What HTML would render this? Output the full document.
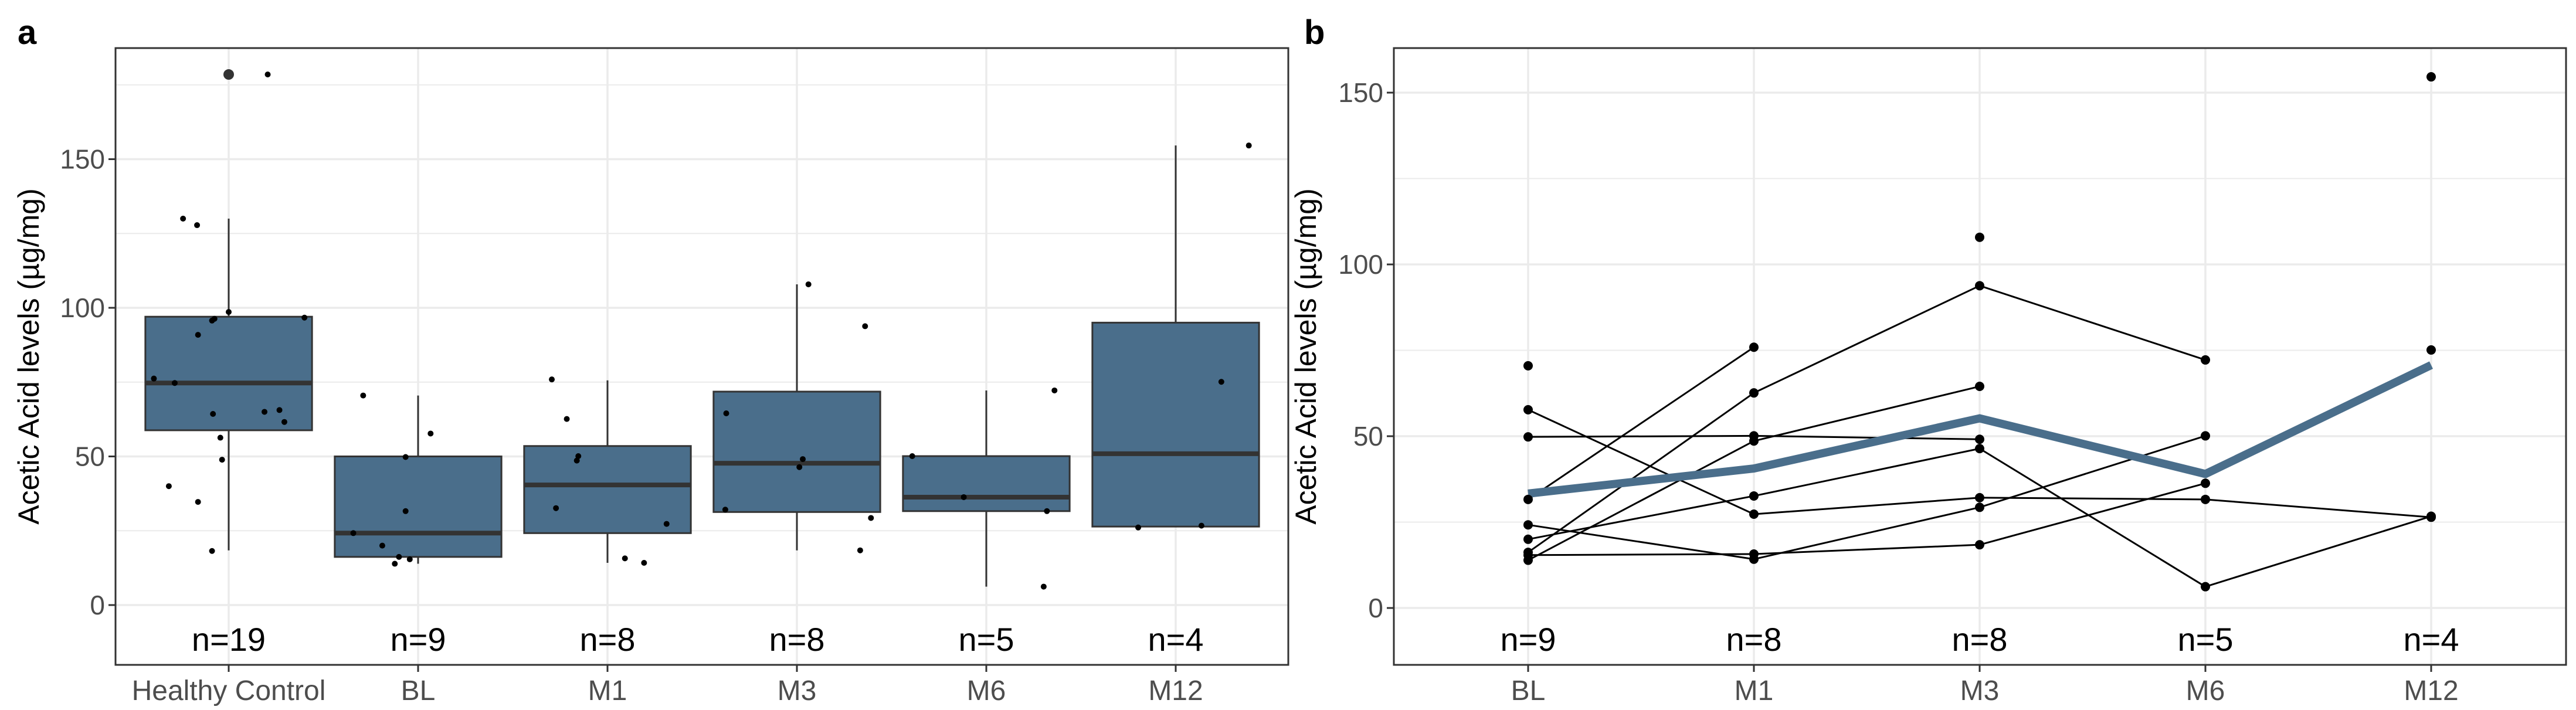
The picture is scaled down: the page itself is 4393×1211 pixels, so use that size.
<!DOCTYPE html>
<html><head><meta charset="utf-8">
<style>
html,body{margin:0;padding:0;background:#fff;}
svg{display:block;font-family:"Liberation Sans",Arial,sans-serif;}
</style></head>
<body>
<svg id="fig" width="4393" height="1211" viewBox="0 0 4393 1211" xmlns="http://www.w3.org/2000/svg">
<rect x="0" y="0" width="4393" height="1211" fill="#fff"/>
<text x="30" y="75" font-size="58" font-weight="bold" fill="#000">a</text>
<text x="2224" y="75" font-size="58" font-weight="bold" fill="#000">b</text>
<g id="pa"></g>
<g id="pb"></g>
</svg>
<script>
// ---------- Panel A data ----------
const catsA = ["Healthy Control","BL","M1","M3","M6","M12"];
const countsA = [19,9,8,8,5,4];
const boxQ1 = [58.8,16.2,24.2,31.3,31.6,26.4];
const boxMed = [74.7,24.2,40.4,47.7,36.3,50.9];
const boxQ3 = [97.0,50.0,53.5,71.8,50.1,95.0];
const whiskLo = [18.4,13.9,14.2,18.4,6.2,26.4];
const whiskHi = [130,70.5,75.6,107.9,72.2,154.6];
const outlierCat = [0];
const outlierVal = [178.5];
const ptCat = [0,0,0,0,0,0,0,0,0,0,0,0,0,0,0,0,0,0,0, 1,1,1,1,1,1,1,1,1, 2,2,2,2,2,2,2,2, 3,3,3,3,3,3,3,3, 4,4,4,4,4, 5,5,5,5];
const ptVal = [178.5,130,127.8,98.6,96.3,95.7,96.7,90.9,76.2,74.7,64.3,65,65.6,61.6,56.3,48.9,40,34.7,18.2,
 70.5,57.7,49.8,31.6,24.2,20,16.2,15.4,13.9,
 75.9,62.6,50.1,48.6,32.6,27.3,15.7,14.2,
 107.9,93.8,64.5,49.1,46.4,32.1,29.3,18.4,
 50.1,72.2,36.3,31.6,6.2,
 154.6,75.1,26.1,26.7];
const ptJitter = [0.206,-0.241,-0.167,0,-0.075,-0.088,0.400,-0.162,-0.395,-0.285,-0.083,0.189,0.268,0.294,-0.044,-0.035,-0.316,-0.162,-0.088,
 -0.290,0.066,-0.066,-0.066,-0.342,-0.189,-0.101,-0.044,-0.123,
 -0.294,-0.215,-0.154,-0.162,-0.272,0.312,0.092,0.193,
 0.061,0.360,-0.373,0.031,0.013,-0.378,0.391,0.334,
 -0.391,0.360,-0.119,0.320,0.303,
 0.386,0.241,-0.198,0.136];
const yTicksA = [0,50,100,150];

// ---------- Panel B data ----------
const catsB = ["BL","M1","M3","M6","M12"];
const countsB = [9,8,8,5,4];
// each subject: values at BL..M12 (null = missing)
const subj1 = [31.6,75.9,null,null,null];
const subj2 = [16.2,62.6,93.8,72.2,null];
const subj3 = [13.9,48.6,64.5,null,null];
const subj4 = [24.2,14.2,29.3,50.1,null];
const subj5 = [15.4,15.7,18.4,36.3,null];
const subj6 = [20.0,32.6,46.4,6.2,26.7];
const subj7 = [57.7,27.3,32.1,31.6,26.4];
const subj8 = [49.8,50.1,49.1,null,null];
const subj9 = [70.5,null,107.9,null,154.6];
const subj10 = [null,null,null,null,75.1];
const subjects = [subj1,subj2,subj3,subj4,subj5,subj6,subj7,subj8,subj9,subj10];
const meanB = [33.3,40.6,55.2,39.0,70.7];
const yTicksB = [0,50,100,150];

const NS="http://www.w3.org/2000/svg";
function mk(parent,tag,attrs){const e=document.createElementNS(NS,tag);for(const k in attrs)e.setAttribute(k,attrs[k]);parent.appendChild(e);return e;}

function drawFrame(g,L,R,T,B,xs,cats,yS,ticks,minor,counts,titleX,nameP){
  // grid
  minor.forEach(v=>{const l=mk(g,'line',{x1:L,x2:R,y1:yS(v),y2:yS(v),stroke:'#ebebeb','stroke-width':2});
    
    });
  ticks.forEach(v=>{const l=mk(g,'line',{x1:L,x2:R,y1:yS(v),y2:yS(v),stroke:'#ebebeb','stroke-width':3.5});
    
    });
  cats.forEach((c,i)=>{const l=mk(g,'line',{x1:xs(i),x2:xs(i),y1:T,y2:B,stroke:'#ebebeb','stroke-width':3.5});
    
    });
  // y ticks
  ticks.forEach(v=>{
    const t=mk(g,'line',{x1:L-12,x2:L,y1:yS(v),y2:yS(v),stroke:'#333','stroke-width':3});
    
    
    const tx=mk(g,'text',{x:L-18,y:yS(v)+16,'text-anchor':'end','font-size':46,fill:'#4d4d4d'});
    tx.textContent=v;
    
    
  });
  cats.forEach((c,i)=>{
    const t=mk(g,'line',{x1:xs(i),x2:xs(i),y1:B,y2:B+12,stroke:'#333','stroke-width':3});
    
    
    const tx=mk(g,'text',{x:xs(i),y:B+60,'text-anchor':'middle','font-size':48,fill:'#4d4d4d'});
    tx.textContent=c;
    
    
    const n=mk(g,'text',{x:xs(i),y:B-24,'text-anchor':'middle','font-size':56,fill:'#000'});
    n.textContent='n='+counts[i];
    
    
  });
  const yt=mk(g,'text',{x:0,y:0,'text-anchor':'middle','font-size':50,fill:'#000',transform:`translate(${titleX},${(T+B)/2}) rotate(-90)`});
  yt.textContent='Acetic Acid levels (µg/mg)';
  
  
}
function border(g,L,R,T,B,nameP){
  const r=mk(g,'rect',{x:L,y:T,width:R-L,height:B-T,fill:'none',stroke:'#333','stroke-width':3});
  
  
}

// ---------- Panel A ----------
(function(){
  const g=document.getElementById('pa');
  const L=197,R=2197,T=82,B=1134;
  const x0=390,dx=323;
  const xs=i=>x0+dx*i;
  const y0=1032,ky=5.07;
  const yS=v=>y0-v*ky;
  drawFrame(g,L,R,T,B,xs,catsA,yS,yTicksA,[25,75,125,175],countsA,66,'a-');
  const hw=0.44*dx;
  catsA.forEach((c,i)=>{
    const w=mk(g,'line',{x1:xs(i),x2:xs(i),y1:yS(whiskHi[i]),y2:yS(whiskLo[i]),stroke:'#333','stroke-width':3});
    
    
    const b=mk(g,'rect',{x:xs(i)-hw,y:yS(boxQ3[i]),width:2*hw,height:yS(boxQ1[i])-yS(boxQ3[i]),fill:'#4a6e8b',stroke:'#333','stroke-width':3});
    
    
    const m=mk(g,'line',{x1:xs(i)-hw,x2:xs(i)+hw,y1:yS(boxMed[i]),y2:yS(boxMed[i]),stroke:'#333','stroke-width':8});
    
    
  });
  outlierCat.forEach((ci,k)=>{
    const o=mk(g,'circle',{cx:xs(ci),cy:yS(outlierVal[k]),r:9,fill:'#333'});
    
    
  });
  ptVal.forEach((v,k)=>{
    const p=mk(g,'circle',{cx:xs(ptCat[k]+ptJitter[k]),cy:yS(v),r:5,fill:'#000'});
    
    
  });
  border(g,L,R,T,B,'a-');
})();

// ---------- Panel B ----------
(function(){
  const g=document.getElementById('pb');
  const L=2377,R=4376,T=82,B=1134;
  const x0=2606,dx=385;
  const xs=i=>x0+dx*i;
  const y0=1037,ky=5.86;
  const yS=v=>y0-v*ky;
  drawFrame(g,L,R,T,B,xs,catsB,yS,yTicksB,[25,75,125],countsB,2244,'b-');
  subjects.forEach((s,si)=>{
    for(let i=0;i<s.length-1;i++){
      if(s[i]!==null&&s[i+1]!==null){
        const l=mk(g,'line',{x1:xs(i),y1:yS(s[i]),x2:xs(i+1),y2:yS(s[i+1]),stroke:'#000','stroke-width':3});
        
        
      }
    }
  });
  const pts=meanB.map((v,i)=>xs(i)+','+yS(v)).join(' ');
  const ml=mk(g,'polyline',{points:pts,fill:'none',stroke:'#4a6e8b','stroke-width':14,'stroke-linejoin':'miter'});
  
  
  subjects.forEach(s=>{
    s.forEach((v,i)=>{
      if(v===null)return;
      const c=mk(g,'circle',{cx:xs(i),cy:yS(v),r:8,fill:'#000'});
      
      
    });
  });
  border(g,L,R,T,B,'b-');
})();
</script>
</body></html>
